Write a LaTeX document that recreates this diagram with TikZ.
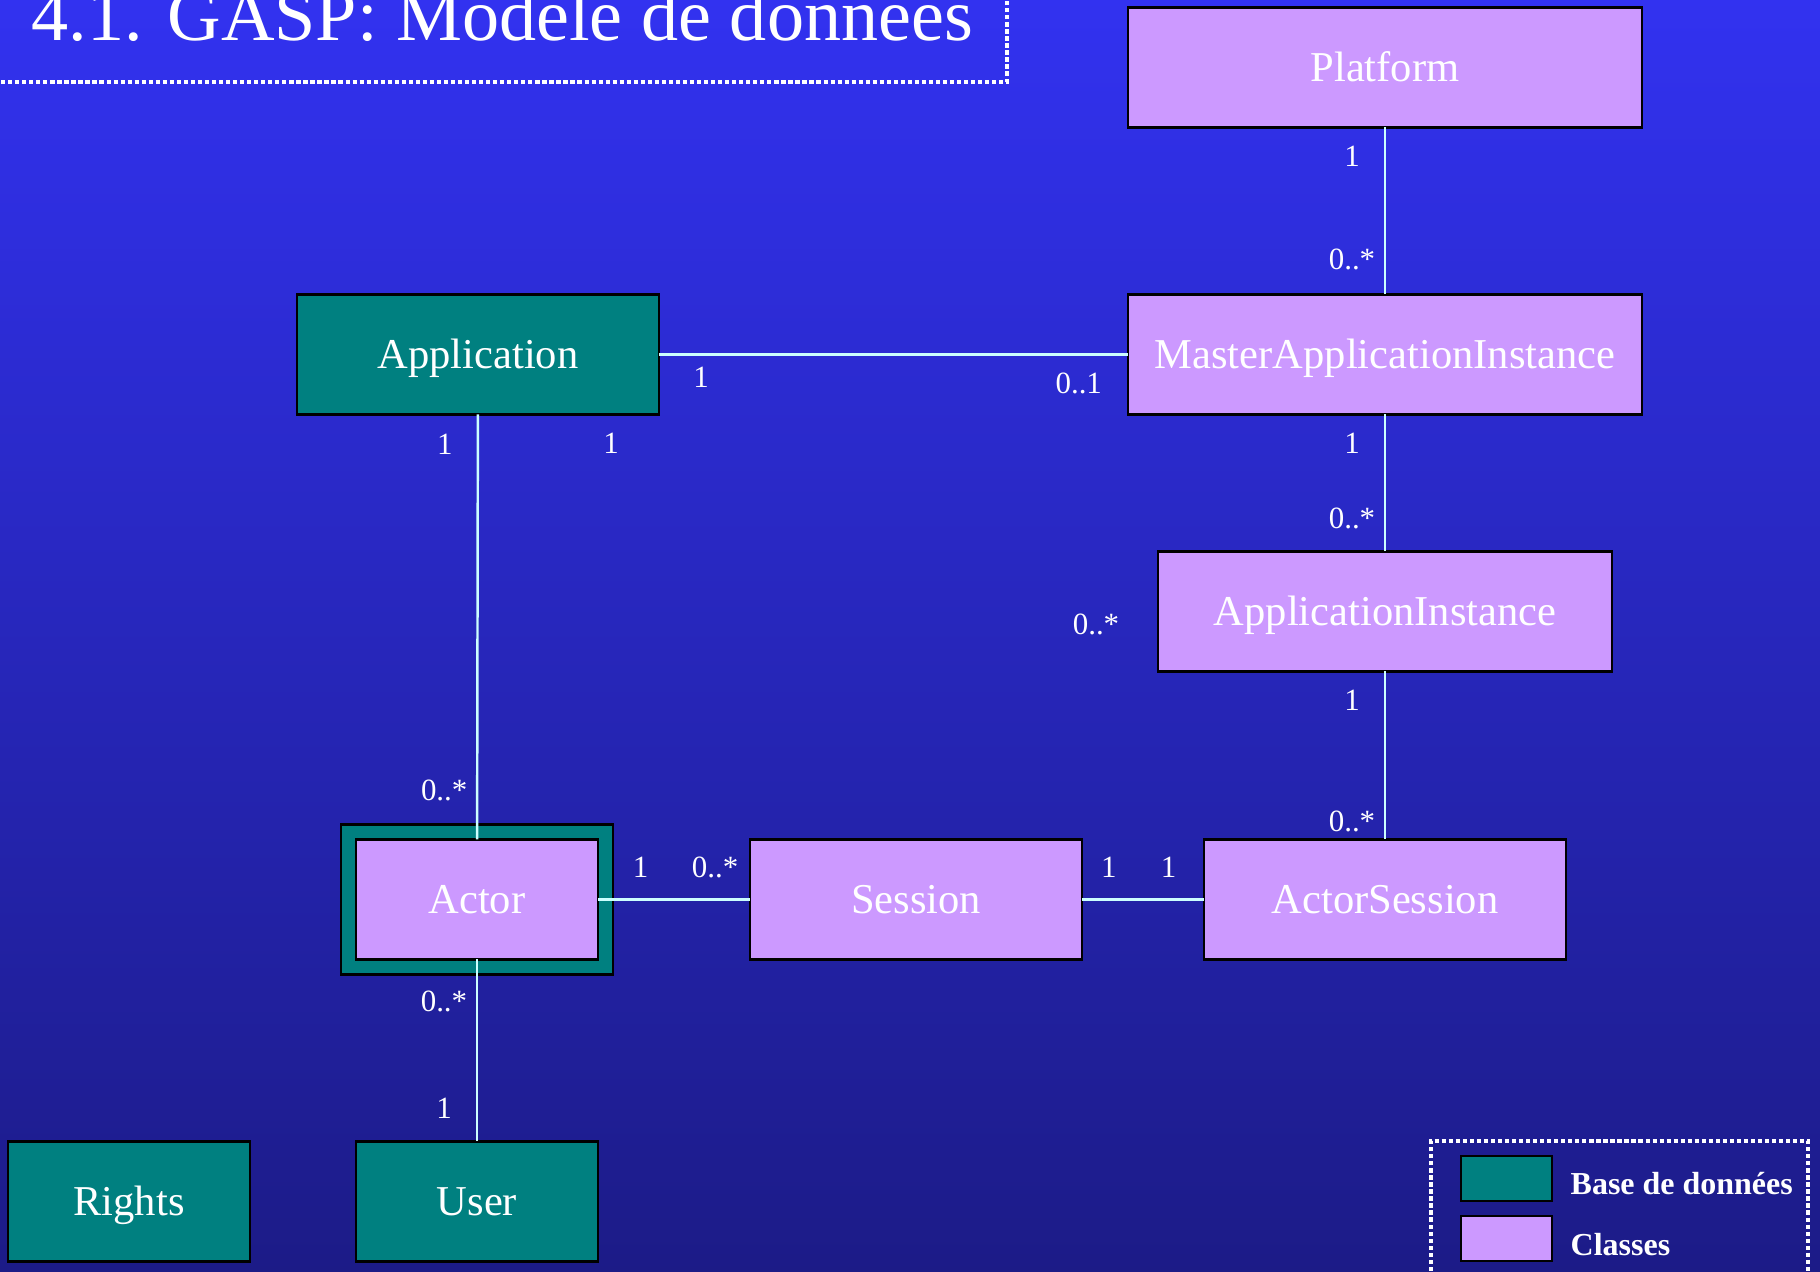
\documentclass[tikz,border=0pt]{standalone}
\usepackage{fontspec}
\setmainfont{Liberation Serif}
\usetikzlibrary{positioning}
\definecolor{bgtop}{RGB}{50,50,240}
\definecolor{bgbot}{RGB}{28,27,135}
\definecolor{dbteal}{RGB}{0,128,128}
\definecolor{clslilac}{RGB}{204,153,255}
\definecolor{linkcol}{RGB}{204,255,255}
\tikzset{
  box/.style={draw=black, line width=0.8pt, minimum height=1.2cm, inner sep=0pt, outer sep=0pt, text=white, text height=0.8em, text depth=0pt, font=\fontsize{12.1}{14}\selectfont},
  dbbox/.style={box, fill=dbteal},
  clsbox/.style={box, fill=clslilac},
  mult/.style={text=white, inner sep=0pt, font=\fontsize{8.8}{10}\selectfont},
  assoc/.style={draw=linkcol, line width=0.7pt},
  dotframe/.style={draw=white, line width=0.9pt, dash pattern=on 1.2pt off 0.8pt},
}

\begin{document}
\begin{tikzpicture}
  \clip (0,0) rectangle (18.2,12.72);
  \shade[top color=bgtop, bottom color=bgbot] (0,0) rectangle (18.2,12.72);
  \node[anchor=base west, inner sep=0pt, text=white, font=\fontsize{21.1}{24}\selectfont] (title) at (0.31,12.31) {4.1. GASP: Modèle de données};
  \draw[dotframe] (-0.2,11.9) -| (10.07,12.9);

  \node[clsbox, minimum width=5.14cm] (plat) at (13.85,12.045) {Platform};
  \node[clsbox, minimum width=5.14cm, below=1.67cm of plat] (mai) {MasterApplicationInstance};
  \node[clsbox, minimum width=4.54cm, below=1.37cm of mai] (ai) {ApplicationInstance};
  \node[clsbox, minimum width=3.62cm, below=1.68cm of ai] (as) {ActorSession};
  \node[clsbox, minimum width=3.32cm, left=1.22cm of as] (sess) {Session};
  \node[dbbox, minimum width=2.72cm, minimum height=1.5cm, left=1.37cm of sess] (actframe) {};
  \node[clsbox, minimum width=2.42cm] (act) at (actframe) {Actor};
  \node[dbbox, minimum width=3.62cm, left=4.69cm of mai] (app) {Application};
  \node[dbbox, minimum width=2.42cm, below=1.82cm of act] (usr) {User};
  \node[dbbox, minimum width=2.42cm, left=1.06cm of usr] (rgt) {Rights};

  \draw[assoc] (plat) -- node[mult, pos=0.17, xshift=-0.33cm]{1} node[mult, pos=0.79, xshift=-0.33cm]{0..*} (mai);
  \draw[assoc] (app) -- node[mult, pos=0.09, yshift=-0.23cm]{1} node[mult, pos=0.895, yshift=-0.29cm]{0..1} (mai);
  \draw[assoc] (mai) -- node[mult, pos=0.21, xshift=-0.33cm]{1} node[mult, pos=0.76, xshift=-0.33cm]{0..*} (ai);
  \draw[assoc] (ai) -- node[mult, pos=0.17, xshift=-0.33cm]{1} node[mult, pos=0.89, xshift=-0.33cm]{0..*} (as);
  \draw[assoc] (app) -- node[mult, pos=0.07, xshift=-0.33cm]{1} node[mult, pos=0.885, xshift=-0.33cm]{0..*} (act);
  \draw[assoc] (act) -- node[mult, pos=0.28, yshift=0.32cm]{1} node[mult, pos=0.77, yshift=0.32cm]{0..*} (sess);
  \draw[assoc] (sess) -- node[mult, pos=0.22, yshift=0.32cm]{1} node[mult, pos=0.71, yshift=0.32cm]{1} (as);
  \draw[assoc] (act) -- node[mult, pos=0.23, xshift=-0.33cm]{0..*} node[mult, pos=0.82, xshift=-0.33cm]{1} (usr);
  \node[mult] (appmult) at ([xshift=1.33cm, yshift=-0.29cm]app.south) {1};
  \node[mult] (aimult) at ([xshift=-0.62cm, yshift=-0.13cm]ai.west) {0..*};

  \draw[dotframe] (14.31,-0.2) |- (18.08,1.31) -- (18.08,-0.2);
  \node[dbbox, minimum width=0.91cm, minimum height=0.45cm] (keydb) at (15.065,0.935) {};
  \node[clsbox, minimum width=0.91cm, minimum height=0.45cm] (keycls) at (15.065,0.335) {};
  \node[right=0.18cm of keydb, yshift=-0.05cm, inner sep=0pt, text=white, font=\bfseries\fontsize{9.1}{11}\selectfont] (keydbtext) {Base de données};
  \node[right=0.18cm of keycls, yshift=-0.06cm, inner sep=0pt, text=white, font=\bfseries\fontsize{9.1}{11}\selectfont] (keyclstext) {Classes};
\end{tikzpicture}
\end{document}
